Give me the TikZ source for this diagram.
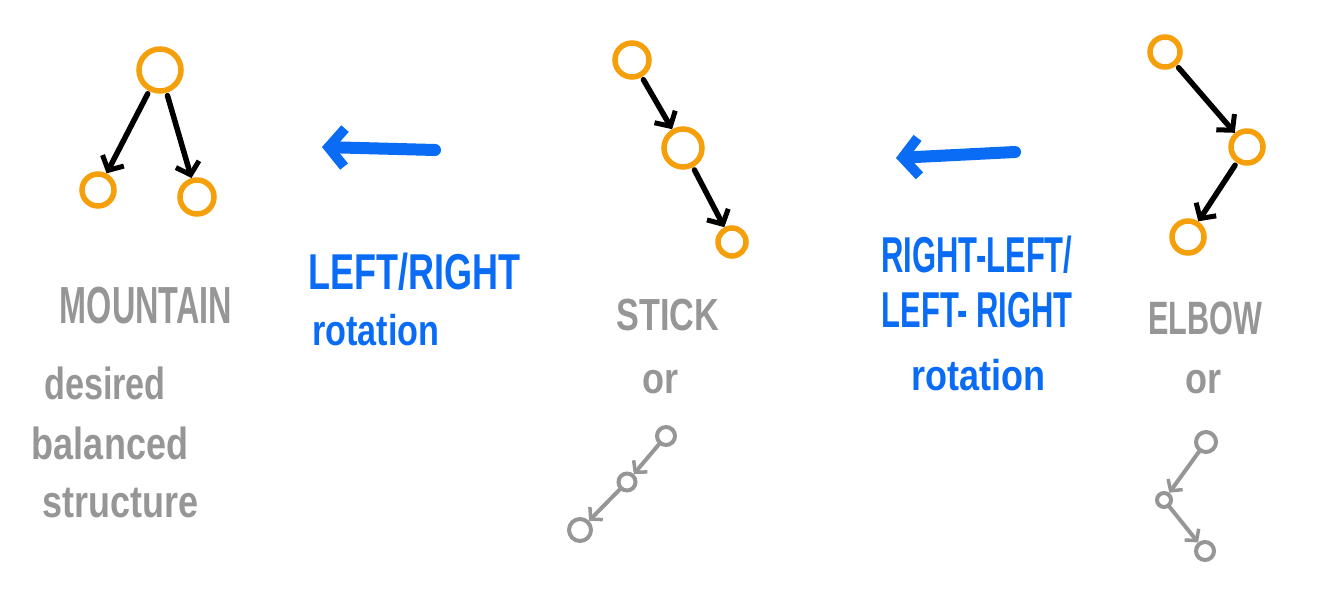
\documentclass[tikz,border=0pt]{standalone}
\usepackage{fontspec}
\usepackage{graphicx}
\setmainfont{Liberation Sans}
\usetikzlibrary{arrows.meta}
\definecolor{nodeor}{RGB}{245,160,10}
\definecolor{rotblue}{RGB}{10,108,245}
\definecolor{lblgray}{RGB}{150,150,150}
\tikzset{
  bignode/.style={circle,draw=nodeor,line width=5.5pt,inner sep=0pt},
  smallnode/.style={circle,draw=lblgray,line width=4pt,inner sep=0pt},
  edge/.style={draw=black,line width=5.5pt,line cap=round,-{Straight Barb[length=11pt,width=24pt,line width=5pt]},shorten <=3pt},
  gedge/.style={draw=lblgray,line width=4pt,line cap=round,-{Straight Barb[length=8pt,width=18pt,line width=3.5pt]}},
  rotarrow/.style={draw=rotblue,line width=12pt,line cap=round,-{Straight Barb[length=16pt,width=38pt,line width=10pt]}},
  bluetxt/.style={text=rotblue,font=\fontsize{36}{40}\selectfont\bfseries,inner sep=0pt},
  graytxt/.style={text=lblgray,font=\fontsize{36}{40}\selectfont\bfseries,inner sep=0pt},
}
\begin{document}
\begin{tikzpicture}[x=1pt,y=-1pt]
\useasboundingbox (0,0) rectangle (1332,615);
% mountain
\node[bignode,minimum size=42pt] (m1) at (160,70) {};
\node[bignode,minimum size=32pt] (m2) at (98,190) {};
\node[bignode,minimum size=34pt] (m3) at (197,197) {};
\draw[edge] (m1) -- (m2);
\draw[edge] (m1) -- (m3);
% stick
\node[bignode,minimum size=34pt] (s1) at (632,60) {};
\node[bignode,minimum size=38pt] (s2) at (683,148) {};
\node[bignode,minimum size=28pt] (s3) at (732,242) {};
\draw[edge] (s1) -- (s2);
\draw[edge] (s2) -- (s3);
% elbow
\node[bignode,minimum size=30pt] (e1) at (1165,52) {};
\node[bignode,minimum size=32pt] (e2) at (1247,147) {};
\node[bignode,minimum size=32pt] (e3) at (1188,237) {};
\draw[edge] (e1) -- (e2);
\draw[edge] (e2) -- (e3);
% rotation arrows
\coordinate (b1s) at (435,150);
\coordinate (b1e) at (322,147);
\coordinate (b2s) at (1015,152);
\coordinate (b2e) at (896,158);
\draw[rotarrow] (b1s) -- (b1e);
\draw[rotarrow] (b2s) -- (b2e);
% blue labels
\node[bluetxt] (t1) at (414,272) {\scalebox{1}[1.4]{LEFT/RIGHT}};
\node[bluetxt] (t2) at (376,330) {\scalebox{0.95}[1.2]{rotation}};
\node[bluetxt] (t3) at (977,255) {\scalebox{0.86}[1.4]{RIGHT-LEFT/}};
\node[bluetxt] (t4) at (977,310) {\scalebox{0.86}[1.4]{LEFT- RIGHT}};
\node[bluetxt] (t5) at (978,375) {\scalebox{1}[1.2]{rotation}};
% gray labels
\node[graytxt] (g1t) at (146,306) {\scalebox{0.9}[1.45]{MOUNTAIN}};
\node[graytxt] (g2t) at (105,383) {\scalebox{0.95}[1.25]{desired}};
\node[graytxt] (g3t) at (110,443) {\scalebox{1}[1.25]{balanced}};
\node[graytxt] (g4t) at (121,503) {\scalebox{1}[1.25]{structure}};
\node[graytxt] (g5t) at (668,315) {\scalebox{0.95}[1.25]{STICK}};
\node[graytxt] (g6t) at (660,382) {\scalebox{1}[1.2]{or}};
\node[graytxt] (g7t) at (1205,318) {\scalebox{0.85}[1.3]{ELBOW}};
\node[graytxt] (g8t) at (1203,382) {\scalebox{1}[1.2]{or}};
% small stick
\node[smallnode,minimum size=18pt] (p1) at (666,436) {};
\node[smallnode,minimum size=17pt] (p2) at (627,482) {};
\node[smallnode,minimum size=22pt] (p3) at (580,530) {};
\draw[gedge] (p1) -- (p2);
\draw[gedge] (p2) -- (p3);
% small elbow
\node[smallnode,minimum size=20pt] (q1) at (1206,442) {};
\node[smallnode,minimum size=14pt] (q2) at (1164,500) {};
\node[smallnode,minimum size=18pt] (q3) at (1205,551) {};
\draw[gedge] (q1) -- (q2);
\draw[gedge] (q2) -- (q3);
\end{tikzpicture}
\end{document}
